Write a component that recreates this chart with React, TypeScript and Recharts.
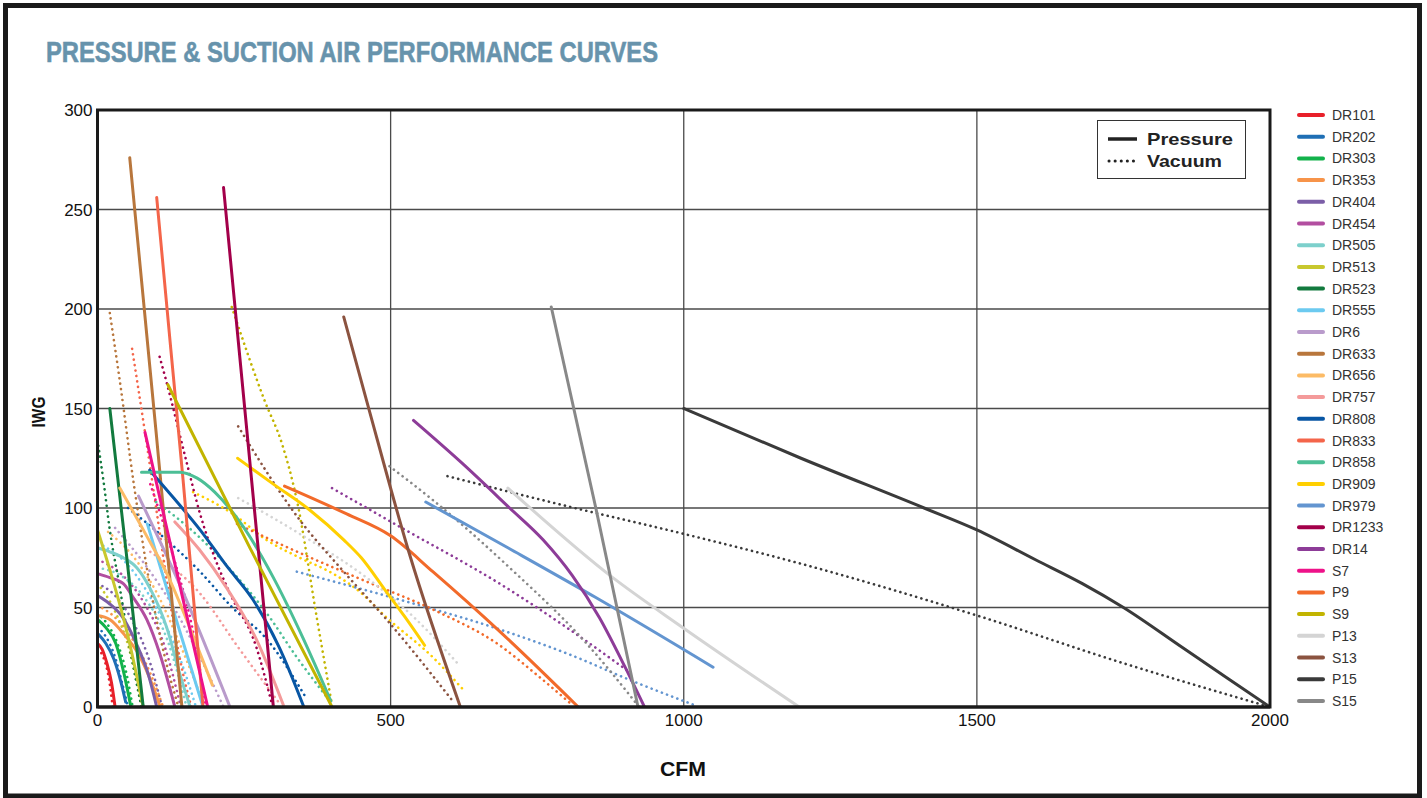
import React from 'react';
import { LineChart, Line, XAxis, YAxis, CartesianGrid } from 'recharts';

type Pt = [number, number];

// [CFM, IWG]
const DR101_P: Pt[] = [[0, 32], [8, 29], [16, 22], [24, 12], [30, 0]];
const DR101_V: Pt[] = [[0, 29], [10, 25], [19, 15], [26, 0]];
const DR202_P: Pt[] = [[0, 37], [14, 32], [28, 24], [40, 12.5], [48, 2.5]];
const DR202_V: Pt[] = [[0, 40], [15, 35], [30, 25], [42, 12], [52, 0]];
const DR303_P: Pt[] = [[0, 44], [14, 40], [31, 32], [45, 17], [57, 0]];
const DR303_V: Pt[] = [[0, 47], [16, 42], [34, 32], [50, 16], [60, 0]];
const DR353_P: Pt[] = [[0, 46], [21, 44], [44, 37], [73, 25], [95, 10], [107, 0]];
const DR353_V: Pt[] = [[0, 51], [30, 45], [60, 34], [90, 17], [112, 0]];
const DR404_P: Pt[] = [[0, 56], [20, 52], [43, 45], [66, 32], [86, 17], [101, 0]];
const DR404_V: Pt[] = [[0, 62], [30, 56], [60, 43], [90, 22], [110, 0]];
const DR454_P: Pt[] = [[0, 67], [21, 65], [44, 62], [61, 55], [84, 44], [106, 27], [132, 0]];
const DR454_V: Pt[] = [[0, 74], [40, 67], [80, 52], [115, 30], [142, 0]];
const DR505_P: Pt[] = [[0, 80], [21, 78], [44, 75], [67, 70], [89, 60], [118, 40], [140, 17], [158, 0]];
const DR505_V: Pt[] = [[0, 70], [40, 66], [80, 55], [120, 33], [152, 0]];
const DR513_P: Pt[] = [[0, 89], [25, 65], [50, 38], [78, 0]];
const DR513_V: Pt[] = [[0, 62], [30, 48], [55, 28], [75, 0]];
const DR523_P: Pt[] = [[21, 150], [50, 75], [78, 0]];
const DR523_V: Pt[] = [[0, 134], [10, 114], [21, 89], [38, 60], [55, 30], [75, 0]];
const DR555_P: Pt[] = [[85, 92], [130, 48], [180, 0]];
const DR555_V: Pt[] = [[10, 81], [50, 72], [100, 50], [140, 25], [168, 0]];
const DR6_P: Pt[] = [[70, 106], [150, 55], [226, 0]];
const DR6_V: Pt[] = [[30, 90], [80, 72], [130, 50], [175, 25], [215, 0]];
const DR633_P: Pt[] = [[55, 276], [100, 138], [144, 0]];
const DR633_V: Pt[] = [[21, 198], [38, 164], [61, 114], [90, 60], [115, 25], [138, 0]];
const DR656_P: Pt[] = [[38, 110], [80, 88], [120, 66], [160, 38], [196, 11]];
const DR656_V: Pt[] = [[18, 88], [60, 76], [100, 58], [140, 32], [178, 4]];
const DR757_P: Pt[] = [[132, 93], [174, 79], [220, 60], [271, 34], [317, 1]];
const DR757_V: Pt[] = [[90, 78], [175, 57], [240, 30], [310, 2]];
const DR808_P: Pt[] = [[89, 119], [130, 105], [175, 89], [220, 71], [265, 54], [310, 30], [352, 0]];
const DR808_V: Pt[] = [[52, 100], [110, 86], [175, 68], [230, 50], [289, 34], [357, 4]];
const DR833_P: Pt[] = [[101, 256], [125, 180], [146, 114], [180, 0]];
const DR833_V: Pt[] = [[59, 180], [80, 140], [100, 100], [120, 60], [140, 25], [160, 0]];
const DR858_P: Pt[] = [[75, 118], [110, 118], [140, 118], [170, 115], [200, 108], [250, 90], [300, 65], [350, 35], [398, 3]];
const DR858_V: Pt[] = [[100, 103], [175, 85], [230, 68], [289, 47], [340, 25], [391, 5]];
const DR909_P: Pt[] = [[239, 125], [300, 112], [362, 99], [420, 84], [450, 75], [490, 59], [525, 45], [558, 31]];
const DR909_V: Pt[] = [[163, 108], [231, 97], [288, 84], [345, 75], [402, 67], [447, 58], [493, 45], [572, 25], [623, 9]];
const DR979_P: Pt[] = [[560, 103], [700, 80], [850, 55], [1050, 20]];
const DR979_V: Pt[] = [[340, 68], [515, 54], [686, 39], [800, 27], [913, 13], [1018, 1]];
const DR1233_P: Pt[] = [[215, 261], [300, 0]];
const DR1233_V: Pt[] = [[106, 176], [118, 163], [152, 123], [175, 97], [200, 75], [226, 57], [271, 30], [297, 2]];
const DR14_P: Pt[] = [[539, 144], [620, 123], [703, 100], [760, 84], [810, 66], [856, 45], [900, 20], [933, 0]];
const DR14_V: Pt[] = [[400, 110], [519, 90], [686, 62], [800, 40], [910, 17]];
const S7_P: Pt[] = [[81, 138], [135, 68], [188, 0]];
const S7_V: Pt[] = [[90, 112], [130, 75], [165, 35], [185, 0]];
const P9_P: Pt[] = [[319, 111], [425, 97], [500, 86], [572, 68], [686, 38], [820, 0]];
const P9_V: Pt[] = [[238, 92], [333, 79], [459, 63], [572, 49], [686, 31], [750, 16], [810, 1]];
const S9_P: Pt[] = [[120, 162], [260, 80], [400, 0]];
const S9_V: Pt[] = [[229, 201], [285, 154], [315, 132], [340, 104], [374, 45], [400, 1]];
const P13_P: Pt[] = [[700, 110], [879, 65], [998, 40], [1197, 0]];
const P13_V: Pt[] = [[240, 105], [345, 87], [459, 65], [540, 45], [614, 22]];
const S13_P: Pt[] = [[420, 196], [459, 154], [532, 77], [619, 0]];
const S13_V: Pt[] = [[240, 141], [345, 94], [420, 68], [493, 44], [606, 3]];
const P15_P: Pt[] = [[1000, 150], [1200, 125], [1410, 100], [1500, 89], [1600, 74], [1680, 62], [1750, 50], [1850, 30], [2000, 0]];
const P15_V: Pt[] = [[597, 116], [800, 101], [1000, 87], [1200, 72], [1500, 46], [1750, 22], [2000, 0]];
const S15_P: Pt[] = [[774, 201], [850, 100], [922, 0]];
const S15_V: Pt[] = [[498, 121], [572, 104], [703, 70], [834, 32], [924, 0]];

const MODEL_NAMES = ['DR101', 'DR202', 'DR303', 'DR353', 'DR404', 'DR454', 'DR505', 'DR513', 'DR523', 'DR555', 'DR6', 'DR633', 'DR656', 'DR757', 'DR808', 'DR833', 'DR858', 'DR909', 'DR979', 'DR1233', 'DR14', 'S7', 'P9', 'S9', 'P13', 'S13', 'P15', 'S15'];
const MODEL_COLORS = ['#e8202a', '#1f6fb5', '#12b24b', '#f7944a', '#7b5ea7', '#b24ea0', '#7dd0cc', '#c8c82e', '#127a3e', '#6ccaf0', '#b99bcb', '#b8763c', '#fcbb66', '#f49a9a', '#0856a4', '#f4654a', '#4cbf96', '#ffcf00', '#6395d0', '#a3004a', '#8d3c98', '#ee1289', '#f26a2a', '#c2b400', '#d4d4d4', '#8b5340', '#3a3a3a', '#888888'];
const PRESSURE = [DR101_P, DR202_P, DR303_P, DR353_P, DR404_P, DR454_P, DR505_P, DR513_P, DR523_P, DR555_P, DR6_P, DR633_P, DR656_P, DR757_P, DR808_P, DR833_P, DR858_P, DR909_P, DR979_P, DR1233_P, DR14_P, S7_P, P9_P, S9_P, P13_P, S13_P, P15_P, S15_P];
const VACUUM = [DR101_V, DR202_V, DR303_V, DR353_V, DR404_V, DR454_V, DR505_V, DR513_V, DR523_V, DR555_V, DR6_V, DR633_V, DR656_V, DR757_V, DR808_V, DR833_V, DR858_V, DR909_V, DR979_V, DR1233_V, DR14_V, S7_V, P9_V, S9_V, P13_V, S13_V, P15_V, S15_V];

const X_TICKS = [0, 500, 1000, 1500, 2000];
const Y_TICKS = [0, 50, 100, 150, 200, 250, 300];

const TITLE = 'PRESSURE & SUCTION AIR PERFORMANCE CURVES';
const X_LABEL = 'CFM';
const Y_LABEL = 'IWG';
const KEY_LABELS = ['Pressure', 'Vacuum'];

const toRows = (pts: Pt[]) => pts.map(([cfm, iwg]) => ({ cfm, iwg }));

const FONT = '"Liberation Sans", Arial, Helvetica, sans-serif';

export default function App() {
  return (
    <div style={{ position: 'absolute', left: 0, top: 0, width: 1427, height: 798, background: '#fff', fontFamily: FONT }}>
      <div style={{ position: 'absolute', left: 0, top: 0 }}>
        <LineChart width={1427} height={798} margin={{ top: 110, right: 157, bottom: 61, left: 0 }}>
          <CartesianGrid stroke="#4a4a4a" strokeWidth={1.3} fill="#fff" />
          <XAxis
            dataKey="cfm"
            type="number"
            domain={[0, 2000]}
            ticks={X_TICKS}
            allowDataOverflow
            tickLine={false}
            tickSize={0}
            tickMargin={7}
            height={30}
            axisLine={{ stroke: '#1a1a1a', strokeWidth: 3 }}
            tick={{ fill: '#111', fontSize: 17, fontFamily: FONT }}
          />
          <YAxis
            type="number"
            domain={[0, 300]}
            ticks={Y_TICKS}
            allowDataOverflow
            tickLine={false}
            tickSize={0}
            tickMargin={5}
            width={97.5}
            axisLine={{ stroke: '#1a1a1a', strokeWidth: 3 }}
            tick={{ fill: '#111', fontSize: 17, fontFamily: FONT }}
          />
          {MODEL_NAMES.map((name, i) => (
            <Line
              key={name + '-v'}
              data={toRows(VACUUM[i])}
              dataKey="iwg"
              name={name + ' Vacuum'}
              type="monotone"
              stroke={MODEL_COLORS[i]}
              strokeWidth={2.6}
              strokeDasharray="0.1 5.4"
              strokeLinecap="round"
              dot={false}
              activeDot={false}
              isAnimationActive={false}
            />
          ))}
          {MODEL_NAMES.map((name, i) => (
            <Line
              key={name + '-p'}
              data={toRows(PRESSURE[i])}
              dataKey="iwg"
              name={name + ' Pressure'}
              type="monotone"
              stroke={MODEL_COLORS[i]}
              strokeWidth={3}
              strokeLinecap="round"
              dot={false}
              activeDot={false}
              isAnimationActive={false}
            />
          ))}
        </LineChart>
      </div>
      <svg width={1427} height={798} style={{ position: 'absolute', left: 0, top: 0, pointerEvents: 'none' }}>
        {/* outer frame */}
        <path d="M5.5 5.5 H1419.5 V796 H5.5 Z" fill="none" stroke="#1a1a1a" strokeWidth={5} />
        {/* plot border */}
        <rect x={97.5} y={110} width={1172.5} height={597} fill="none" stroke="#1a1a1a" strokeWidth={3} />
        <text x={46} y={62} fontFamily={FONT} fontWeight="bold" fontSize={30} fill="#6793ac" stroke="#6793ac" strokeWidth={0.6} textLength={612} lengthAdjust="spacingAndGlyphs">{TITLE}</text>
        <text x={683} y={776} textAnchor="middle" fontFamily={FONT} fontWeight="bold" fontSize={21} fill="#111" textLength={46} lengthAdjust="spacingAndGlyphs">{X_LABEL}</text>
        <text x={0} y={0} transform="translate(45 412) rotate(-90)" textAnchor="middle" fontFamily={FONT} fontWeight="bold" fontSize={19} fill="#111" textLength={31} lengthAdjust="spacingAndGlyphs">{Y_LABEL}</text>
        {/* line-style key */}
        <rect x={1097.5} y={120.5} width={148} height={58} fill="#fff" stroke="#333" strokeWidth={1} />
        <line x1={1108} y1={139} x2={1137} y2={139} stroke="#222" strokeWidth={3.5} />
        <line x1={1109} y1={161} x2={1136} y2={161} stroke="#222" strokeWidth={3} strokeDasharray="0.1 6" strokeLinecap="round" />
        <text x={1147} y={145} fontFamily={FONT} fontWeight="bold" fontSize={17} fill="#222" textLength={86} lengthAdjust="spacingAndGlyphs">{KEY_LABELS[0]}</text>
        <text x={1147} y={167} fontFamily={FONT} fontWeight="bold" fontSize={17} fill="#222" textLength={75} lengthAdjust="spacingAndGlyphs">{KEY_LABELS[1]}</text>
        {/* model legend */}
        {MODEL_NAMES.map((name, i) => {
          const y = 115 + i * 21.7;
          return (
            <g key={name}>
              <line x1={1299} y1={y} x2={1323} y2={y} stroke={MODEL_COLORS[i]} strokeWidth={4} strokeLinecap="round" />
              <text x={1332} y={y + 5} fontFamily={FONT} fontSize={14} fill="#333">{name}</text>
            </g>
          );
        })}
      </svg>
    </div>
  );
}
